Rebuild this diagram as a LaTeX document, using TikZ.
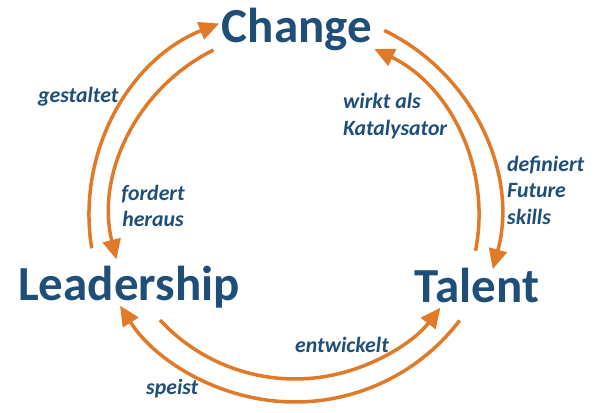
\documentclass[tikz,border=0pt]{standalone}
\usepackage{fontspec}
\setmainfont{Carlito}
\usetikzlibrary{arrows.meta}
\definecolor{dblue}{HTML}{1F4E79}
\definecolor{orng}{HTML}{E07A28}
\begin{document}
\begin{tikzpicture}[x=1pt,y=1pt,
  big/.style={font=\fontsize{49}{58}\selectfont\bfseries, text=dblue, inner sep=0pt, anchor=base},
  lbl/.style={font=\fontsize{21.8}{26.5}\selectfont\bfseries\itshape, text=dblue, inner sep=0pt, align=left},
  arr/.style={draw=orng, line width=3.5pt, -{Triangle[length=20pt,width=18pt]}}]
\useasboundingbox (0,0) rectangle (609,412);
\coordinate (C1) at (295,197);
\coordinate (C2) at (295,217);
% main concepts
\node[big] (change) at (297,369) {Change};
\node[big] (leadership) at (129,112) {Leadership};
\node[big] (talent) at (477,110) {Talent};
% arcs
\coordinate (sGest) at ([shift={(189.3:206)}]C1);
\draw[arr] (sGest) arc[start angle=189.3, end angle=111.6, radius=206];
\coordinate (sFord) at ([shift={(116.3:184)}]C1);
\draw[arr] (sFord) arc[start angle=116.3, end angle=194, radius=184];
\coordinate (sDef) at ([shift={(64.2:205)}]C1);
\draw[arr] (sDef) arc[start angle=64.2, end angle=-15.3, radius=205];
\coordinate (sKat) at ([shift={(-11.2:184)}]C1);
\draw[arr] (sKat) arc[start angle=-11.2, end angle=64.5, radius=184];
\coordinate (sSpe) at ([shift={(-37.3:207)}]C2);
\draw[arr] (sSpe) arc[start angle=-37.3, end angle=-147.7, radius=207];
\coordinate (sEnt) at ([shift={(-137.2:184)}]C2);
\draw[arr] (sEnt) arc[start angle=-137.2, end angle=-37.8, radius=184];
% labels
\node[lbl, anchor=west] (lGest) at (38,315) {gestaltet};
\node[lbl, anchor=center, align=center] (lFord) at (153,206) {fordert\\heraus};
\node[lbl, anchor=west] (lKat) at (343,296) {wirkt als\\Katalysator};
\node[lbl, anchor=west] (lDef) at (507,222) {definiert\\Future\\skills};
\node[lbl, anchor=west] (lEnt) at (295,67) {entwickelt};
\node[lbl, anchor=west] (lSpe) at (146,23) {speist};
\end{tikzpicture}
\end{document}
